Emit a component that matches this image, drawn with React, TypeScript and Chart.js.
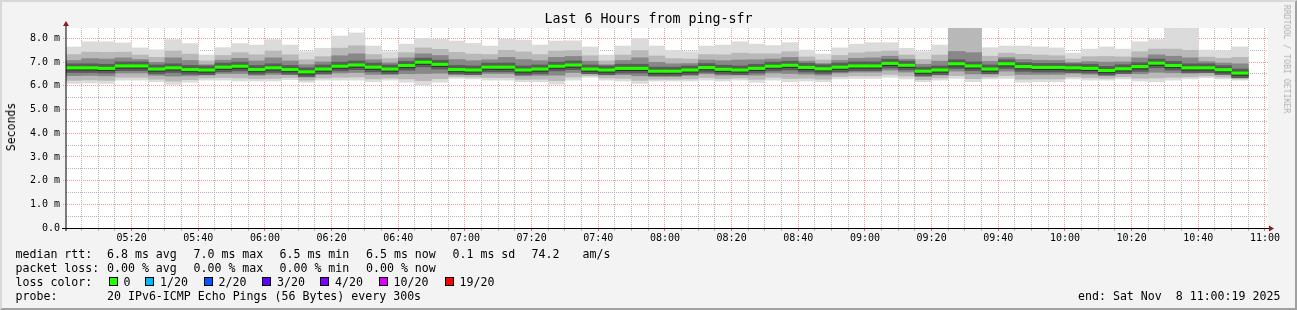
import { useEffect, useRef } from "react";
import { Chart, registerables } from "chart.js";

Chart.register(...registerables);

// 5-minute slots (start time of each smoke bar)
const slotStarts = [
  "05:00", "05:05", "05:10", "05:15", "05:20", "05:25", "05:30", "05:35", "05:40", "05:45", "05:50", "05:55",
  "06:00", "06:05", "06:10", "06:15", "06:20", "06:25", "06:30", "06:35", "06:40", "06:45", "06:50", "06:55",
  "07:00", "07:05", "07:10", "07:15", "07:20", "07:25", "07:30", "07:35", "07:40", "07:45", "07:50", "07:55",
  "08:00", "08:05", "08:10", "08:15", "08:20", "08:25", "08:30", "08:35", "08:40", "08:45", "08:50", "08:55",
  "09:00", "09:05", "09:10", "09:15", "09:20", "09:25", "09:30", "09:35", "09:40", "09:45", "09:50", "09:55",
  "10:00", "10:05", "10:10", "10:15", "10:20", "10:25", "10:30", "10:35", "10:40", "10:45", "10:50",
];

// values in ms
const rttMax = [
  7.64, 7.86, 7.86, 7.81, 7.60, 7.52, 7.95, 7.78, 7.30, 7.61,
  7.78, 7.72, 7.95, 7.72, 7.44, 7.58, 8.10, 8.23, 7.68, 7.44,
  7.76, 8.00, 7.96, 7.89, 7.79, 7.68, 7.97, 7.93, 7.72, 7.89,
  7.90, 7.64, 7.30, 7.68, 7.99, 7.68, 7.50, 7.44, 7.68, 7.72,
  7.86, 7.76, 7.70, 7.82, 7.51, 7.34, 7.60, 7.76, 7.82, 7.82,
  7.58, 7.44, 7.72, 8.60, 8.60, 7.61, 7.68, 7.68, 7.64, 7.60,
  7.38, 7.55, 7.64, 7.55, 7.86, 7.95, 8.60, 8.60, 7.51, 7.48, 7.64,
];
const rttHi2 = [
  7.32, 7.42, 7.41, 7.42, 7.30, 7.20, 7.47, 7.34, 7.05, 7.28,
  7.40, 7.31, 7.47, 7.31, 7.10, 7.23, 7.59, 7.69, 7.32, 7.15,
  7.40, 7.60, 7.54, 7.41, 7.34, 7.32, 7.50, 7.43, 7.32, 7.47,
  7.49, 7.27, 7.05, 7.30, 7.49, 7.26, 7.15, 7.13, 7.32, 7.31,
  7.38, 7.35, 7.35, 7.44, 7.22, 7.09, 7.28, 7.39, 7.43, 7.47,
  7.30, 7.11, 7.30, 8.60, 8.60, 7.25, 7.38, 7.33, 7.30, 7.27,
  7.13, 7.23, 7.24, 7.22, 7.44, 7.55, 7.55, 7.50, 7.21, 7.16, 7.20,
];
const rttHi3 = [
  7.07, 7.15, 7.13, 7.18, 7.11, 6.99, 7.18, 7.07, 6.89, 7.08,
  7.16, 7.05, 7.18, 7.05, 6.89, 7.01, 7.27, 7.35, 7.10, 6.97,
  7.18, 7.35, 7.28, 7.11, 7.06, 7.10, 7.20, 7.11, 7.06, 7.20,
  7.24, 7.04, 6.89, 7.07, 7.18, 6.99, 6.93, 6.94, 7.09, 7.06,
  7.09, 7.10, 7.13, 7.20, 7.04, 6.94, 7.07, 7.16, 7.18, 7.25,
  7.12, 6.91, 7.04, 7.45, 7.40, 7.03, 7.19, 7.11, 7.08, 7.07,
  6.98, 7.02, 7.00, 7.01, 7.18, 7.31, 7.25, 7.18, 7.02, 6.96, 6.93,
];
const rttMedian = [
  6.76, 6.76, 6.74, 6.84, 6.84, 6.71, 6.76, 6.69, 6.67, 6.79,
  6.83, 6.69, 6.76, 6.69, 6.59, 6.71, 6.83, 6.88, 6.79, 6.71,
  6.86, 7.00, 6.91, 6.69, 6.67, 6.79, 6.79, 6.67, 6.71, 6.83,
  6.88, 6.71, 6.67, 6.74, 6.74, 6.62, 6.62, 6.67, 6.77, 6.70,
  6.67, 6.74, 6.83, 6.87, 6.78, 6.72, 6.79, 6.84, 6.84, 6.95,
  6.87, 6.62, 6.67, 6.93, 6.84, 6.71, 6.93, 6.81, 6.78, 6.78,
  6.76, 6.74, 6.65, 6.72, 6.81, 6.96, 6.86, 6.76, 6.76, 6.68, 6.54,
];
const rttLo3 = [
  6.43, 6.44, 6.42, 6.54, 6.54, 6.44, 6.41, 6.42, 6.46, 6.52,
  6.52, 6.45, 6.48, 6.48, 6.37, 6.48, 6.54, 6.56, 6.48, 6.48,
  6.51, 6.52, 6.53, 6.50, 6.48, 6.52, 6.52, 6.42, 6.44, 6.45,
  6.56, 6.54, 6.46, 6.47, 6.42, 6.41, 6.41, 6.44, 6.51, 6.45,
  6.46, 6.45, 6.54, 6.52, 6.49, 6.45, 6.54, 6.58, 6.58, 6.66,
  6.58, 6.40, 6.46, 6.62, 6.50, 6.50, 6.62, 6.48, 6.48, 6.48,
  6.53, 6.49, 6.45, 6.51, 6.51, 6.57, 6.55, 6.53, 6.55, 6.49, 6.37,
];
const rttLo2 = [
  6.23, 6.25, 6.23, 6.36, 6.36, 6.28, 6.20, 6.26, 6.33, 6.35,
  6.33, 6.30, 6.31, 6.35, 6.24, 6.33, 6.36, 6.37, 6.29, 6.33,
  6.29, 6.22, 6.30, 6.39, 6.37, 6.35, 6.35, 6.27, 6.28, 6.22,
  6.37, 6.43, 6.33, 6.31, 6.23, 6.28, 6.28, 6.29, 6.35, 6.30,
  6.33, 6.27, 6.36, 6.31, 6.32, 6.28, 6.39, 6.42, 6.42, 6.48,
  6.41, 6.26, 6.33, 6.43, 6.30, 6.37, 6.43, 6.28, 6.29, 6.29,
  6.38, 6.34, 6.32, 6.38, 6.32, 6.33, 6.36, 6.38, 6.42, 6.37, 6.30,
];
const rttMin = [
  6.10, 6.12, 6.10, 6.24, 6.24, 6.17, 6.06, 6.15, 6.24, 6.24,
  6.20, 6.20, 6.20, 6.26, 6.15, 6.24, 6.24, 6.24, 6.17, 6.24,
  6.15, 6.03, 6.15, 6.31, 6.29, 6.24, 6.24, 6.17, 6.17, 6.07,
  6.24, 6.36, 6.24, 6.20, 6.10, 6.20, 6.20, 6.20, 6.24, 6.20,
  6.24, 6.15, 6.24, 6.17, 6.20, 6.17, 6.29, 6.31, 6.31, 6.36,
  6.29, 6.17, 6.24, 6.31, 6.17, 6.29, 6.31, 6.15, 6.17, 6.17,
  6.29, 6.24, 6.24, 6.29, 6.20, 6.17, 6.24, 6.29, 6.34, 6.29, 6.24,
];

const xMajorLabels = [
  "05:20", "05:40", "06:00", "06:20", "06:40", "07:00", "07:20", "07:40", "08:00",
  "08:20", "08:40", "09:00", "09:20", "09:40", "10:00", "10:20", "10:40", "11:00",
];
const yMajorLabels = ["0.0", "1.0 m", "2.0 m", "3.0 m", "4.0 m", "5.0 m", "6.0 m", "7.0 m", "8.0 m"];

const rttStats = [
  { text: "6.8 ms avg", x: 107 },
  { text: "7.0 ms max", x: 193.5 },
  { text: "6.5 ms min", x: 279.5 },
  { text: "6.5 ms now", x: 366 },
  { text: "0.1 ms sd", x: 452.5 },
  { text: "74.2", x: 531.5 },
  { text: "am/s", x: 582.5 },
];
const lossStats = [
  { text: "0.00 % avg", x: 107 },
  { text: "0.00 % max", x: 193.5 },
  { text: "0.00 % min", x: 279.5 },
  { text: "0.00 % now", x: 366 },
];
const lossLegend = [
  { label: "0", color: "#26ff00", x: 123.5 },
  { label: "1/20", color: "#00b8ff", x: 160 },
  { label: "2/20", color: "#0059ff", x: 218.5 },
  { label: "3/20", color: "#5e00ff", x: 277 },
  { label: "4/20", color: "#7e00ff", x: 335 },
  { label: "10/20", color: "#dd00ff", x: 393.5 },
  { label: "19/20", color: "#ff0000", x: 459.5 },
];

const DAY_START = 5 * 60; // 05:00
const START_OFFSET = 19 / 60; // graph starts at 05:00:19
const SLOT = 5;
const MONO = "'DejaVu Sans Mono', monospace";
const MAJOR_GRID = "#f29a9a";
const MINOR_GRID = "#b4b4b4";
const LEGEND_FONT = 11.6;
const CLEAR = "rgba(0,0,0,0)";

function toMin(t: string) {
  const [h, m] = t.split(":").map(Number);
  return h * 60 + m - DAY_START;
}

function Txt({ x, y, children, style }: any) {
  return (
    <div
      style={{
        position: "absolute",
        left: x,
        top: y - 7,
        lineHeight: "14px",
        fontSize: LEGEND_FONT,
        fontFamily: MONO,
        whiteSpace: "pre",
        color: "#000",
        ...style,
      }}
    >
      {children}
    </div>
  );
}

export default function App() {
  const ref = useRef<HTMLCanvasElement>(null);

  useEffect(() => {
    const canvas = ref.current!;
    const xc = slotStarts.map((t) => toMin(t) + SLOT / 2);
    const mk = (lo: number[], hi: number[]) => xc.map((x, i) => ({ x, y: [lo[i], hi[i]] }));
    const around = (dn: number, up: number) => xc.map((x, i) => ({ x, y: [rttMedian[i] - dn, rttMedian[i] + up] }));
    const band = (label: string, data: any[], color: string, order: number) => ({
      type: "bar" as const,
      label,
      data,
      backgroundColor: color,
      borderWidth: 0,
      grouped: false,
      barPercentage: 1,
      categoryPercentage: 1,
      order,
    });

    const xTickValues: number[] = [];
    for (let v = SLOT; v <= 360; v += SLOT) xTickValues.push(v);
    const yTickValues: number[] = [];
    for (let v = 0; v <= 8; v += 0.5) yTickValues.push(v);

    const isMajorX = (v: number) => Math.round(v) % 20 === 0;
    const isMajorY = (v: number) => Number.isInteger(v);

    const bgPlugin = {
      id: "plotBg",
      beforeDraw(chart: any) {
        const { ctx, chartArea: a } = chart;
        ctx.save();
        ctx.fillStyle = "#ffffff";
        ctx.fillRect(a.left, a.top, a.right - a.left + 2, a.bottom - a.top);
        ctx.restore();
      },
    };

    // rrdtool-style dotted grid (minor grey, major red) drawn from the scales' ticks
    const gridPlugin = {
      id: "rrdGrid",
      beforeDatasetsDraw(chart: any) {
        const { ctx, chartArea: a, scales } = chart;
        const xs = scales.x;
        const ys = scales.y;
        ctx.save();
        ctx.lineWidth = 1;
        for (const major of [false, true]) {
          ctx.strokeStyle = major ? MAJOR_GRID : MINOR_GRID;
          ctx.setLineDash([1, 1]);
          ctx.beginPath();
          for (const t of xs.ticks) {
            if (isMajorX(t.value) !== major) continue;
            const px = Math.floor(xs.getPixelForValue(t.value)) + 0.5;
            ctx.moveTo(px, a.top);
            ctx.lineTo(px, a.bottom);
          }
          for (const t of ys.ticks) {
            if (isMajorY(t.value) !== major || t.value === 0) continue;
            const py = Math.floor(ys.getPixelForValue(t.value)) + 0.5;
            ctx.moveTo(major ? a.left - 3 : a.left, py);
            ctx.lineTo(a.right + 2, py);
          }
          ctx.stroke();
          // small tick marks below the time axis
          ctx.setLineDash([]);
          ctx.strokeStyle = major ? "#e46a6a" : "#b8b8b8";
          ctx.beginPath();
          for (const t of xs.ticks) {
            if (isMajorX(t.value) !== major) continue;
            const px = Math.floor(xs.getPixelForValue(t.value)) + 0.5;
            ctx.moveTo(px, a.bottom);
            ctx.lineTo(px, a.bottom + 3);
          }
          ctx.stroke();
        }
        ctx.restore();
      },
    };

    const axisPlugin = {
      id: "rrdAxes",
      afterDraw(chart: any) {
        const { ctx, chartArea: a } = chart;
        ctx.save();
        ctx.strokeStyle = "#000";
        ctx.lineWidth = 1;
        ctx.beginPath();
        ctx.moveTo(a.left - 4, a.bottom + 0.5);
        ctx.lineTo(a.right + 4, a.bottom + 0.5);
        ctx.stroke();
        ctx.beginPath();
        ctx.moveTo(a.left, a.bottom + 3);
        ctx.lineTo(a.left, a.top - 3);
        ctx.stroke();
        ctx.fillStyle = "#8e1b1b";
        ctx.beginPath();
        ctx.moveTo(a.left - 3, a.top - 2);
        ctx.lineTo(a.left + 3, a.top - 2);
        ctx.lineTo(a.left, a.top - 7);
        ctx.closePath();
        ctx.fill();
        ctx.beginPath();
        ctx.moveTo(a.right + 3, a.bottom + 0.5 - 3);
        ctx.lineTo(a.right + 3, a.bottom + 0.5 + 3);
        ctx.lineTo(a.right + 8, a.bottom + 0.5);
        ctx.closePath();
        ctx.fill();
        ctx.restore();
      },
    };

    const MH = 1.3 / 23.7;

    const chart = new Chart(canvas, {
      type: "bar",
      data: {
        datasets: [
          band("median", around(MH, MH), "#26ff00", 0),
          band("core", around(0.1, 0.06), "#333333", 1),
          band("inner", around(0.2, 0.17), "#5c5c5c", 2),
          band("mid", mk(rttLo3, rttHi3), "#888888", 3),
          band("outer", mk(rttLo2, rttHi2), "#b8b8b8", 4),
          band("range", mk(rttMin, rttMax), "#dbdbdb", 5),
        ] as any,
      },
      options: {
        responsive: false,
        animation: false,
        devicePixelRatio: 1,
        layout: { padding: { top: 28, right: 31, bottom: 0, left: 0 } },
        plugins: {
          legend: { display: false },
          tooltip: { enabled: false },
          title: { display: false },
        },
        scales: {
          x: {
            type: "linear",
            min: START_OFFSET,
            max: 360 + START_OFFSET,
            offset: false,
            afterBuildTicks: (s: any) => {
              s.ticks = xTickValues.map((value) => ({ value }));
            },
            afterFit: (s: any) => {
              s.height = 82;
              s.paddingLeft = 0;
              s.paddingRight = 0;
            },
            ticks: {
              autoSkip: false,
              maxRotation: 0,
              minRotation: 0,
              padding: 1,
              color: "#000",
              font: { family: MONO, size: 10 },
              callback: (v: any) => {
                const lbl = xMajorLabels.find((l) => toMin(l) === Math.round(Number(v)));
                return lbl || "";
              },
            },
            grid: { offset: false, lineWidth: 1, tickLength: 3, color: CLEAR, tickColor: CLEAR },
            border: { display: false },
          } as any,
          y: {
            type: "linear",
            min: 0,
            max: 8.44,
            afterBuildTicks: (s: any) => {
              s.ticks = yTickValues.map((value) => ({ value }));
            },
            afterFit: (s: any) => {
              s.width = 66;
              s.paddingTop = 0;
              s.paddingBottom = 0;
            },
            ticks: {
              autoSkip: false,
              padding: 3,
              color: "#000",
              font: { family: MONO, size: 10 },
              callback: (v: any) => {
                const n = Number(v);
                return Number.isInteger(n) ? yMajorLabels[n] : "";
              },
            },
            grid: { lineWidth: 1, tickLength: 3, color: CLEAR, tickColor: CLEAR },
            border: { display: false },
          } as any,
        },
      },
      plugins: [bgPlugin, gridPlugin, axisPlugin],
    });
    return () => chart.destroy();
  }, []);

  return (
    <div
      style={{
        position: "absolute",
        left: 0,
        top: 0,
        width: 1297,
        height: 310,
        background: "#f3f3f3",
        overflow: "hidden",
      }}
    >
      <canvas ref={ref} width={1297} height={310} style={{ position: "absolute", left: 0, top: 0, width: 1297, height: 310 }} />
      <div
        style={{
          position: "absolute",
          left: 0,
          top: 11,
          width: 1297,
          textAlign: "center",
          fontFamily: MONO,
          fontSize: 13.3,
          lineHeight: "16px",
          color: "#000",
          whiteSpace: "pre",
        }}
      >
        Last 6 Hours from ping-sfr
      </div>
      <div
        style={{
          position: "absolute",
          left: 11,
          top: 127,
          transform: "translate(-50%, -50%) rotate(-90deg)",
          fontFamily: MONO,
          fontSize: 11.5,
          lineHeight: "14px",
          whiteSpace: "pre",
          color: "#000",
        }}
      >
        Seconds
      </div>
      <div
        style={{
          position: "absolute",
          left: 1287,
          top: 59,
          transform: "translate(-50%, -50%) rotate(90deg)",
          fontFamily: MONO,
          fontSize: 8.2,
          lineHeight: "10px",
          whiteSpace: "pre",
          color: "#b0b0b0",
        }}
      >
        RRDTOOL / TOBI OETIKER
      </div>

      <Txt x={15.5} y={254}>median rtt:</Txt>
      {rttStats.map((s) => (
        <Txt key={s.text + s.x} x={s.x} y={254}>{s.text}</Txt>
      ))}
      <Txt x={15.5} y={268}>packet loss:</Txt>
      {lossStats.map((s) => (
        <Txt key={s.text + s.x} x={s.x} y={268}>{s.text}</Txt>
      ))}
      <Txt x={15.5} y={282}>loss color:</Txt>
      {lossLegend.map((l) => (
        <div key={l.label}>
          <div
            style={{
              position: "absolute",
              left: l.x - 15,
              top: 277,
              width: 7,
              height: 7,
              border: "1px solid #000",
              background: l.color,
            }}
          />
          <Txt x={l.x} y={282}>{l.label}</Txt>
        </div>
      ))}
      <Txt x={15.5} y={296}>probe:</Txt>
      <Txt x={107} y={296}>20 IPv6-ICMP Echo Pings (56 Bytes) every 300s</Txt>
      <Txt x={1078} y={296}>end: Sat Nov  8 11:00:19 2025</Txt>

      <div
        style={{
          position: "absolute",
          left: 0,
          top: 0,
          width: 1297,
          height: 310,
          boxSizing: "border-box",
          borderTop: "2px solid #d8d8d8",
          borderLeft: "2px solid #d8d8d8",
          borderRight: "2px solid #a0a0a0",
          borderBottom: "2px solid #a0a0a0",
          pointerEvents: "none",
        }}
      />
    </div>
  );
}
